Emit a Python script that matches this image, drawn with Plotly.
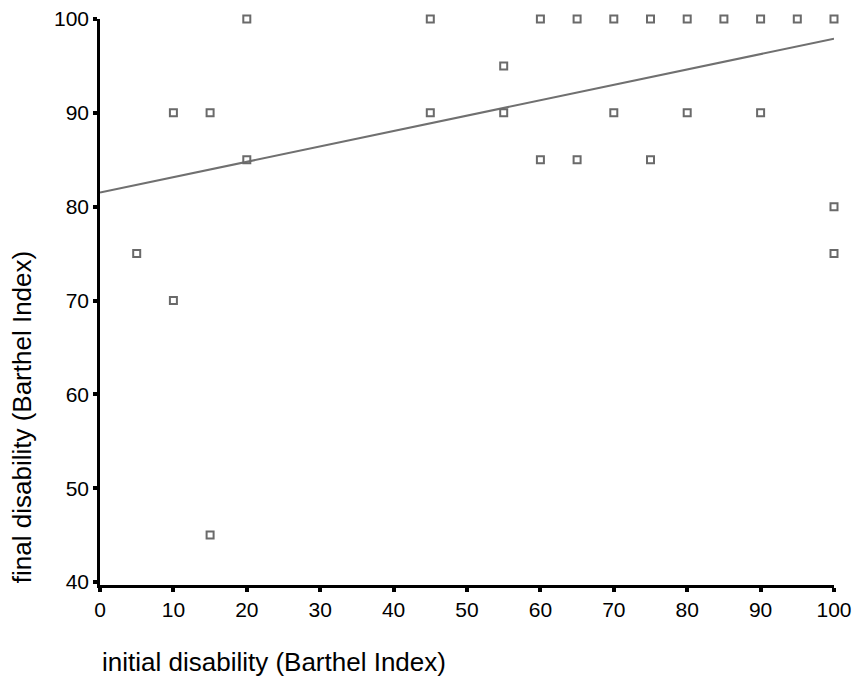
import plotly.graph_objects as go

# data
initial = [5, 10, 10, 15, 15, 20, 20, 45, 45, 55, 55, 60, 60, 65, 65,
           70, 70, 75, 75, 80, 80, 85, 90, 90, 95, 100, 100, 100]
final = [75, 90, 70, 90, 45, 100, 85, 100, 90, 95, 90, 100, 85, 100, 85,
         100, 90, 100, 85, 100, 90, 100, 100, 90, 100, 100, 80, 75]

# fitted regression line
fit_x = [0, 100]
fit_y = [81.5, 97.9]

x_ticks = [0, 10, 20, 30, 40, 50, 60, 70, 80, 90, 100]
y_ticks = [40, 50, 60, 70, 80, 90, 100]

fig = go.Figure()
fig.add_trace(go.Scatter(
    x=fit_x, y=fit_y, mode="lines",
    line=dict(color="#707070", width=2),
    hoverinfo="skip", showlegend=False))
fig.add_trace(go.Scatter(
    x=initial, y=final, mode="markers",
    marker=dict(symbol="square-open", size=7, color="#6a6a6a",
                line=dict(width=2, color="#6a6a6a")),
    cliponaxis=False, showlegend=False))

font = "Liberation Sans, Arial, sans-serif"
fig.update_layout(
    width=855, height=686,
    margin=dict(l=100, r=21, t=19, b=101, autoexpand=False),
    paper_bgcolor="white", plot_bgcolor="white",
    font=dict(family=font, size=21, color="black"),
    xaxis=dict(range=[0, 100], tickvals=x_ticks, showgrid=False, zeroline=False,
               showline=True, linecolor="black", linewidth=2.5, automargin=False,
               ticks="outside", ticklen=4, tickwidth=4, tickcolor="black",
               tickfont=dict(size=21)),
    yaxis=dict(range=[39.68, 100], tickvals=y_ticks, showgrid=False, zeroline=False,
               showline=True, linecolor="black", linewidth=2.5, automargin=False,
               ticks="outside", ticklen=4, tickwidth=4, tickcolor="black",
               tickfont=dict(size=21)),
    annotations=[
        dict(text="final disability (Barthel Index)", xref="paper", yref="paper",
             x=-0.106, y=0, xanchor="center", yanchor="bottom", textangle=-90,
             showarrow=False, font=dict(size=26, family=font)),
        dict(text="initial disability (Barthel Index)", xref="paper", yref="paper",
             x=0, y=-0.136, xanchor="left", yanchor="middle",
             showarrow=False, font=dict(size=26, family=font)),
    ],
)

fig.write_html("out.html")
